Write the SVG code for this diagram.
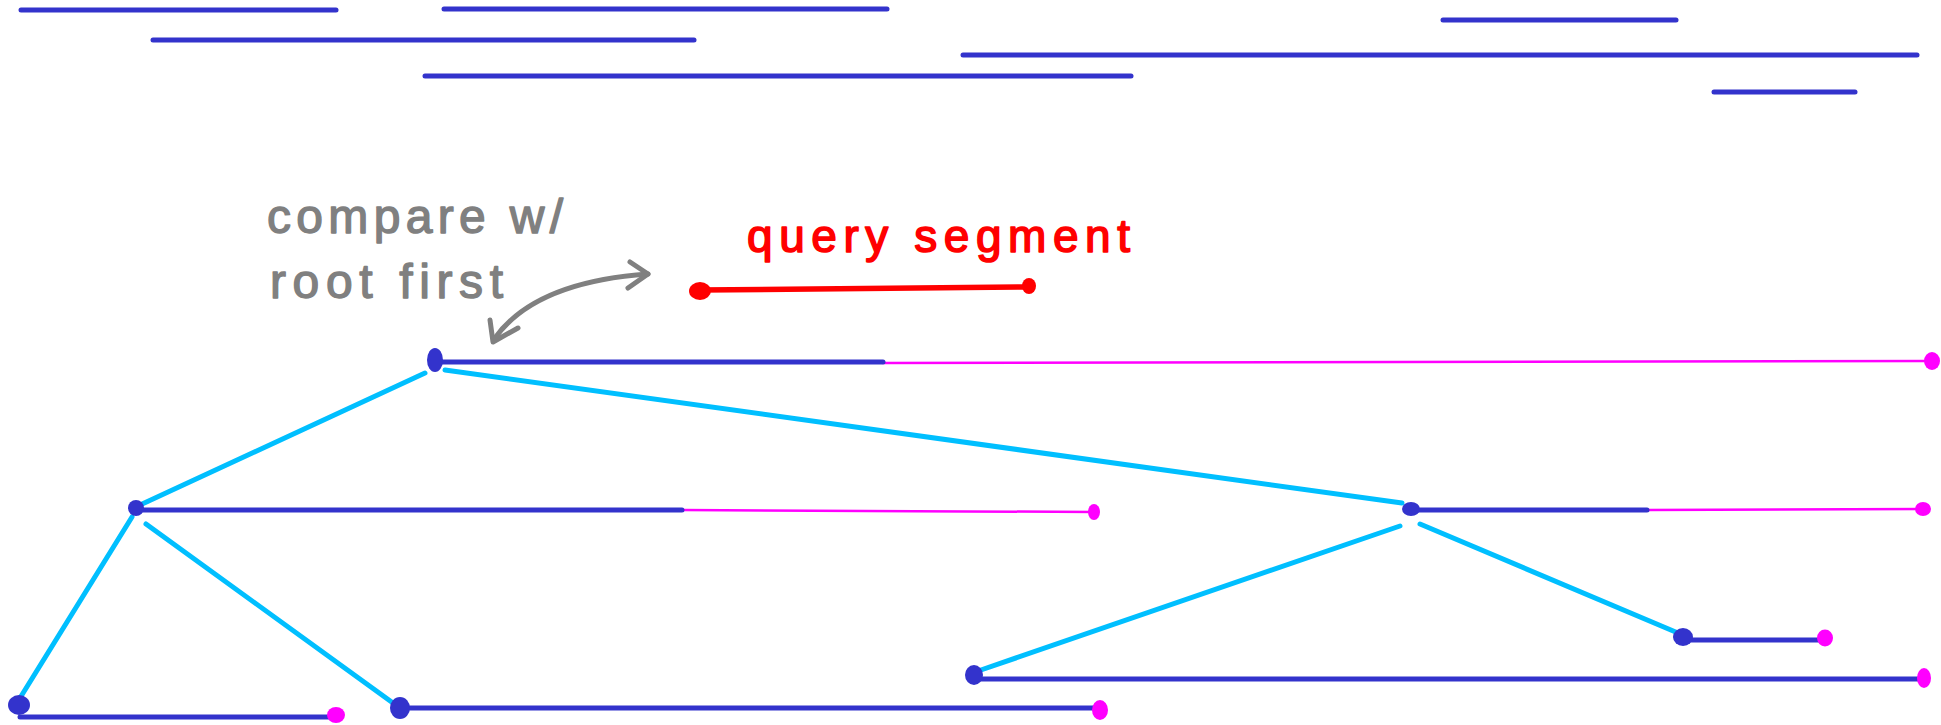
<svg xmlns="http://www.w3.org/2000/svg" width="1941" height="725" viewBox="0 0 1941 725">
  <style>
    .seg { stroke: #3333cc; stroke-width: 5; stroke-linecap: round; fill: none; }
    .max { stroke: #ff00ff; stroke-width: 2.5; stroke-linecap: round; fill: none; }
    .dot { fill: #3333cc; }
    .mdot { fill: #ff00ff; }
    .edge { stroke: #00bfff; stroke-width: 5; stroke-linecap: round; fill: none; }
    .note { font-family: "Liberation Sans", "DejaVu Sans", sans-serif; fill: #808080; stroke: #808080; stroke-width: 1.4; stroke-linejoin: round; }
    .ink { stroke: #808080; stroke-width: 5; stroke-linecap: round; stroke-linejoin: round; fill: none; }
    .query { stroke: #ff0000; stroke-width: 5.5; stroke-linecap: round; fill: none; }
    .qtext { font-family: "Liberation Sans", "DejaVu Sans", sans-serif; fill: #ff0000; stroke: #ff0000; stroke-width: 1.6; stroke-linejoin: round; }
  </style>

  <!-- unsorted input segments -->
  <g id="input-segments">
    <line class="seg" x1="21" y1="10" x2="336" y2="10"/>
    <line class="seg" x1="444" y1="9" x2="887" y2="9"/>
    <line class="seg" x1="153" y1="40" x2="694" y2="40"/>
    <line class="seg" x1="963" y1="55" x2="1917" y2="55"/>
    <line class="seg" x1="425" y1="76" x2="1131" y2="76"/>
    <line class="seg" x1="1443" y1="20" x2="1676" y2="20"/>
    <line class="seg" x1="1714" y1="92" x2="1855" y2="92"/>
  </g>

  <!-- query segment -->
  <g id="query">
    <line class="query" x1="700" y1="290" x2="1028" y2="287"/>
    <ellipse cx="700" cy="291" rx="11" ry="9" fill="#ff0000"/>
    <ellipse cx="1029" cy="286" rx="7" ry="8" fill="#ff0000"/>
    <text class="qtext" x="747" y="252" font-size="46" textLength="383" lengthAdjust="spacing">query segment</text>
  </g>

  <!-- annotation -->
  <g id="annotation">
    <text class="note" x="267" y="233" font-size="48" textLength="296" lengthAdjust="spacing">compare w/</text>
    <text class="note" x="270" y="298" font-size="48" textLength="233" lengthAdjust="spacing">root first</text>
    <path class="ink" d="M 495 338 Q 535 282 648 274"/>
    <polyline class="ink" points="630,262 648,274 628,288"/>
    <polyline class="ink" points="490,320 493,342 518,328"/>
  </g>

  <!-- tree edges -->
  <g id="connectors">
    <line class="edge" x1="425" y1="373" x2="140" y2="505"/>
    <line class="edge" x1="445" y1="370" x2="1402" y2="503"/>
    <line class="edge" x1="132" y1="517" x2="20" y2="698"/>
    <line class="edge" x1="146" y1="524" x2="393" y2="703"/>
    <line class="edge" x1="1400" y1="526" x2="978" y2="671"/>
    <line class="edge" x1="1420" y1="524" x2="1678" y2="633"/>
  </g>

  <!-- tree nodes: segment, subtree max extension -->
  <g id="node-root">
    <line class="max" x1="883" y1="363" x2="1931" y2="361"/>
    <line class="seg" x1="435" y1="362" x2="883" y2="362"/>
    <ellipse class="dot" cx="435" cy="360" rx="8" ry="12"/>
    <ellipse class="mdot" cx="1932" cy="361" rx="8" ry="9"/>
  </g>

  <g id="node-a">
    <line class="max" x1="682" y1="510" x2="1094" y2="512"/>
    <line class="seg" x1="136" y1="510" x2="682" y2="510"/>
    <ellipse class="dot" cx="136" cy="508" rx="8" ry="8"/>
    <ellipse class="mdot" cx="1094" cy="512" rx="6" ry="8"/>
  </g>

  <g id="node-r">
    <line class="max" x1="1647" y1="510" x2="1923" y2="509"/>
    <line class="seg" x1="1411" y1="510" x2="1647" y2="510"/>
    <ellipse class="dot" cx="1411" cy="509" rx="9" ry="7"/>
    <ellipse class="mdot" cx="1923" cy="509" rx="8" ry="7"/>
  </g>

  <g id="node-ll">
    <line class="seg" x1="20" y1="717" x2="333" y2="717"/>
    <ellipse class="dot" cx="19" cy="705" rx="11" ry="10"/>
    <ellipse class="mdot" cx="336" cy="715" rx="9" ry="8"/>
  </g>

  <g id="node-lr">
    <line class="seg" x1="400" y1="708" x2="1100" y2="708"/>
    <ellipse class="dot" cx="400" cy="708" rx="10" ry="11"/>
    <ellipse class="mdot" cx="1100" cy="710" rx="8" ry="10"/>
  </g>

  <g id="node-rl">
    <line class="seg" x1="974" y1="679" x2="1922" y2="679"/>
    <ellipse class="dot" cx="974" cy="675" rx="9" ry="10"/>
    <ellipse class="mdot" cx="1924" cy="678" rx="7" ry="10"/>
  </g>

  <g id="node-rr">
    <line class="seg" x1="1683" y1="640" x2="1825" y2="640"/>
    <ellipse class="dot" cx="1683" cy="637" rx="10" ry="9"/>
    <ellipse class="mdot" cx="1825" cy="638" rx="8" ry="8.5"/>
  </g>
</svg>
